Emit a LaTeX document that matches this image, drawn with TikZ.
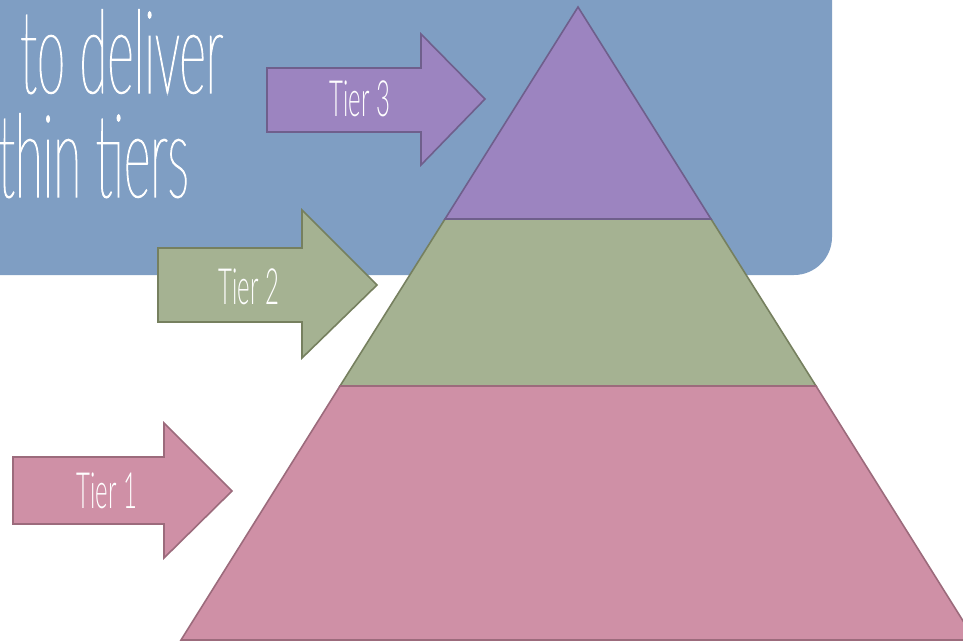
\documentclass[tikz,border=0pt]{standalone}
\usepackage{fontspec}
\newfontfamily\slimfont[FakeStretch=0.44,FakeBold=1]{Lato Thin}
\newfontfamily\tierfont[FakeStretch=0.48]{Lato Light}

\definecolor{boxblue}{HTML}{7F9EC3}
\definecolor{purpfill}{HTML}{9C84C0}
\definecolor{purpline}{HTML}{6F5F8C}
\definecolor{greenfill}{HTML}{A5B292}
\definecolor{greenline}{HTML}{76805F}
\definecolor{pinkfill}{HTML}{CF90A6}
\definecolor{pinkline}{HTML}{9C6B7C}

\tikzset{
  tier/.style={line width=1.6pt, line join=miter},
  tierlabel/.style={text=white, inner sep=0pt, font=\tierfont\fontsize{50}{50}\selectfont},
  bigtext/.style={text=white, inner sep=0pt, anchor=base west, font=\slimfont\fontsize{116}{116}\selectfont},
}

\begin{document}
\begin{tikzpicture}[x=1pt,y=-1pt]
\clip (0,0) rectangle (963,642);
\useasboundingbox (0,0) rectangle (963,642);

%% Blue panel - only its lower right corner shows
\fill[boxblue, rounded corners=38pt] (-60,-60) rectangle (832,275);

% heading text, cut at the left edge
\node[bigtext] (line1) at (20,93) {to deliver};
\node[bigtext] (line2) at (-2,197) {thin tiers};

% TIER 3 arrow
\draw[tier, fill=purpfill, draw=purpline] (267,68) -- (421,68) -- (421,34) -- (485,99)
    -- (421,165) -- (421,132) -- (267,132) -- cycle;
\node[tierlabel] (t3) at (360,99) {Tier 3};

%% Pyramid
% middle
\draw[tier, fill=greenfill, draw=greenline] (445,219) -- (711,219) -- (816,386) -- (340,386) -- cycle;
% top
\draw[tier, fill=purpfill, draw=purpline] (578,7) -- (711,219) -- (445,219) -- cycle;
% bottom
\draw[tier, fill=pinkfill, draw=pinkline] (340,386) -- (816,386) -- (975,640) -- (181,640) -- cycle;

% TIER 2 arrow
\draw[tier, fill=greenfill, draw=greenline] (158,248) -- (302,248) -- (302,210) -- (377,285)
    -- (302,358) -- (302,322) -- (158,322) -- cycle;
\node[tierlabel] (t2) at (249,287) {Tier 2};

% TIER 1 arrow
\draw[tier, fill=pinkfill, draw=pinkline] (13,457) -- (164,457) -- (164,423) -- (232,491)
    -- (164,558) -- (164,524) -- (13,524) -- cycle;
\node[tierlabel] (t1) at (107,491) {Tier 1};
\end{tikzpicture}
\end{document}
